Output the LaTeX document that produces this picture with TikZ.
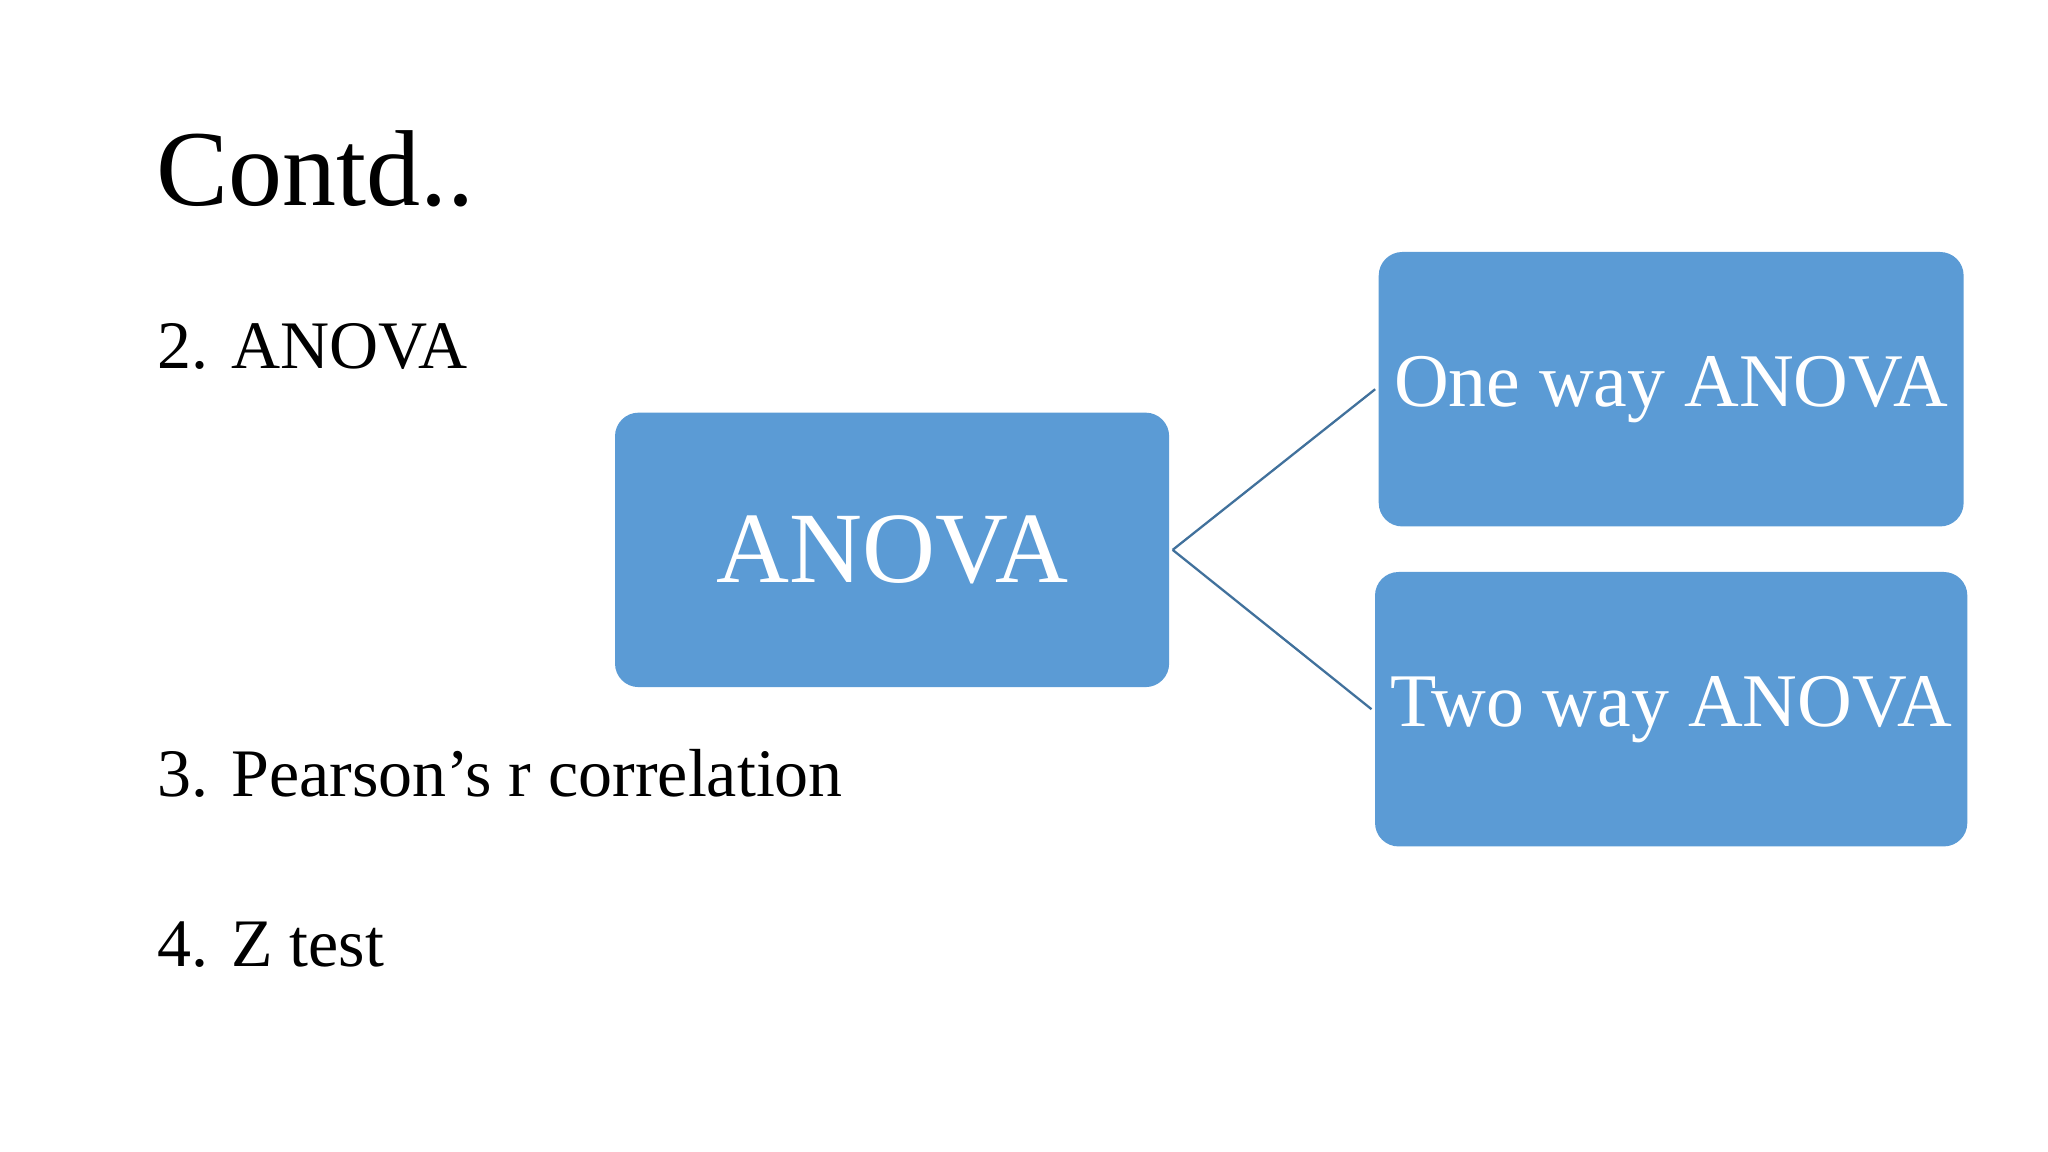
\documentclass[tikz,border=0pt]{standalone}
\usepackage{fontspec}
\setmainfont{Liberation Serif}
\definecolor{boxblue}{HTML}{5B9BD5}
\definecolor{lineblue}{HTML}{41719C}
\begin{document}
\begin{tikzpicture}[x=0.01cm,y=-0.01cm,
  bbox/.style={fill=boxblue,draw=none,rounded corners=0.18cm,text=white},
  item/.style={anchor=base west,inner sep=0pt,font=\fontsize{14.8pt}{17pt}\selectfont},
  conn/.style={draw=lineblue,line width=0.5pt}]
\useasboundingbox (0,0) rectangle (1568,882);
\node[anchor=base west,inner sep=0pt,font=\fontsize{23.5pt}{28pt}\selectfont] (title) at (119,157) {Contd..};
\node[item] (i2) at (120,282) {2. ANOVA};
\node[item] (i3) at (120,610) {3. Pearson’s r correlation};
\node[item] (i4) at (120,740) {4. Z test};
\node[bbox,minimum width=4.24cm,minimum height=2.10cm,font=\fontsize{22pt}{26pt}\selectfont] (anova) at (683,421) {ANOVA};
\node[bbox,minimum width=4.23cm,minimum height=2.10cm,font=\fontsize{16.5pt}{20pt}\selectfont] (one) at (1279.5,298) {One way ANOVA};
\node[bbox,minimum width=4.23cm,minimum height=2.10cm,font=\fontsize{16.5pt}{20pt}\selectfont] (two) at (1279.5,543) {Two way ANOVA};
\draw[conn] ([xshift=0.02cm]anova.east) -- ([xshift=-0.02cm]one.west);
\draw[conn] ([xshift=0.02cm]anova.east) -- ([xshift=-0.02cm]two.west);
\end{tikzpicture}
\end{document}
